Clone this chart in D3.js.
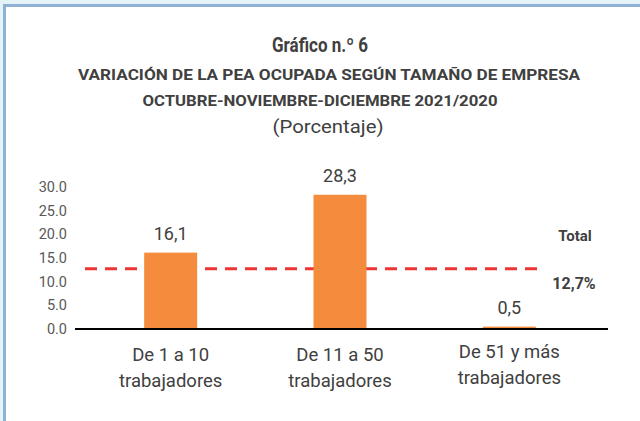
<!DOCTYPE html>
<html>
<head>
<meta charset="utf-8">
<script src="https://cdn.jsdelivr.net/npm/d3@7"></script>
<style>
  body { margin: 0; background: #ffffff; }
  svg { display: block; font-family: Roboto, "Liberation Sans", sans-serif; }
</style>
</head>
<body>
<div class="canvas"></div>
<script>
const svgWidth = 640;
const svgHeight = 421;

// chart data
const categories = ['De 1 a 10|trabajadores', 'De 11 a 50|trabajadores', 'De 51 y más|trabajadores'];
const values = [16.1, 28.3, 0.5];
const valueLabels = ['16,1', '28,3', '0,5'];
const totalValue = 12.7;
const totalLabel = '12,7%';
const yTicks = [0, 5, 10, 15, 20, 25, 30];

const svg = d3.select('.canvas')
    .append('svg')
    .attr('width', svgWidth)
    .attr('height', svgHeight);

// panel background and frame
svg.append('rect').attr('width', svgWidth).attr('height', svgHeight).attr('fill', '#e4f3f8');
svg.append('rect').attr('x', 6).attr('y', 7).attr('width', svgWidth - 6).attr('height', svgHeight - 7).attr('fill', '#ffffff');
svg.append('rect').attr('x', 3).attr('y', 4).attr('width', svgWidth - 3).attr('height', 3).attr('fill', '#8fb2d4');
svg.append('rect').attr('x', 3).attr('y', 4).attr('width', 3).attr('height', svgHeight - 4).attr('fill', '#8fb2d4');

// titles
svg.append('text')
    .attr('x', 320).attr('y', 52)
    .attr('text-anchor', 'middle')
    .attr('font-size', 20).attr('font-weight', 'bold')
    .attr('fill', '#404040')
    .attr('textLength', 96).attr('lengthAdjust', 'spacingAndGlyphs')
    .text('Gráfico n.º 6');

svg.append('text')
    .attr('x', 329).attr('y', 80)
    .attr('text-anchor', 'middle')
    .attr('font-size', 15).attr('font-weight', 'bold')
    .attr('fill', '#404040')
    .attr('textLength', 502).attr('lengthAdjust', 'spacingAndGlyphs')
    .text('VARIACIÓN DE LA PEA OCUPADA SEGÚN TAMAÑO DE EMPRESA');

svg.append('text')
    .attr('x', 320).attr('y', 106)
    .attr('text-anchor', 'middle')
    .attr('font-size', 15).attr('font-weight', 'bold')
    .attr('fill', '#404040')
    .attr('textLength', 355).attr('lengthAdjust', 'spacingAndGlyphs')
    .text('OCTUBRE-NOVIEMBRE-DICIEMBRE 2021/2020');

svg.append('text')
    .attr('x', 328).attr('y', 133)
    .attr('text-anchor', 'middle')
    .attr('font-size', 19)
    .attr('fill', '#404040')
    .attr('textLength', 111).attr('lengthAdjust', 'spacingAndGlyphs')
    .text('(Porcentaje)');

// scales
const x = d3.scaleBand()
    .domain(categories)
    .range([86, 594])
    .paddingInner(0.687)
    .paddingOuter(0.3435);

const y = d3.scaleLinear()
    .domain([0, 30])
    .range([329, 186.7]);

// y axis (labels only)
const yAxis = d3.axisLeft(y)
    .tickValues(yTicks)
    .tickFormat(d3.format('.1f'))
    .tickSize(0)
    .tickPadding(0);

const yAxisGroup = svg.append('g')
    .attr('transform', 'translate(67, 0)')
    .call(yAxis);
yAxisGroup.select('.domain').remove();
yAxisGroup.selectAll('text')
    .attr('font-family', 'Roboto, sans-serif')
    .attr('font-size', 14.5)
    .attr('fill', '#595959');

// dashed total line (behind bars)
const lastCat = categories[categories.length - 1];
svg.append('line')
    .attr('x1', 85)
    .attr('x2', x(lastCat) + x.bandwidth() + 5)
    .attr('y1', y(totalValue))
    .attr('y2', y(totalValue))
    .attr('stroke', '#ee3535')
    .attr('stroke-width', 3)
    .attr('stroke-dasharray', '12,8');

// bars
svg.selectAll('.bar')
    .data(values)
    .enter()
    .append('rect')
    .attr('class', 'bar')
    .attr('x', (d, i) => x(categories[i]))
    .attr('y', d => y(d))
    .attr('width', x.bandwidth())
    .attr('height', d => y(0) - y(d))
    .attr('fill', '#f58c3d');

// value labels
svg.selectAll('.value-label')
    .data(values)
    .enter()
    .append('text')
    .attr('class', 'value-label')
    .attr('x', (d, i) => x(categories[i]) + x.bandwidth() / 2)
    .attr('y', d => y(d) - 13)
    .attr('text-anchor', 'middle')
    .attr('font-size', 18)
    .attr('fill', '#404040')
    .text((d, i) => valueLabels[i]);

// baseline
svg.append('line')
    .attr('x1', 75).attr('x2', 608)
    .attr('y1', y(0)).attr('y2', y(0))
    .attr('stroke', '#000000')
    .attr('stroke-width', 2);

// category labels (two lines)
const catLabels = svg.selectAll('.cat-label')
    .data(categories)
    .enter()
    .append('text')
    .attr('class', 'cat-label')
    .attr('text-anchor', 'middle')
    .attr('font-size', 18.5)
    .attr('fill', '#404040')
    .attr('transform', (d, i) => `translate(${x(d) + x.bandwidth() / 2}, ${i === 2 ? 358 : 361})`);

catLabels.selectAll('tspan')
    .data(d => d.split('|'))
    .enter()
    .append('tspan')
    .attr('x', 0)
    .attr('dy', (d, i) => i === 0 ? 0 : 26)
    .text(d => d);

// total annotation
svg.append('text')
    .attr('x', 575).attr('y', 241)
    .attr('text-anchor', 'middle')
    .attr('font-size', 15).attr('font-weight', 'bold')
    .attr('fill', '#404040')
    .text('Total');

svg.append('text')
    .attr('x', 574).attr('y', 289)
    .attr('text-anchor', 'middle')
    .attr('font-size', 16).attr('font-weight', 'bold')
    .attr('fill', '#404040')
    .text(totalLabel);
</script>
</body>
</html>
